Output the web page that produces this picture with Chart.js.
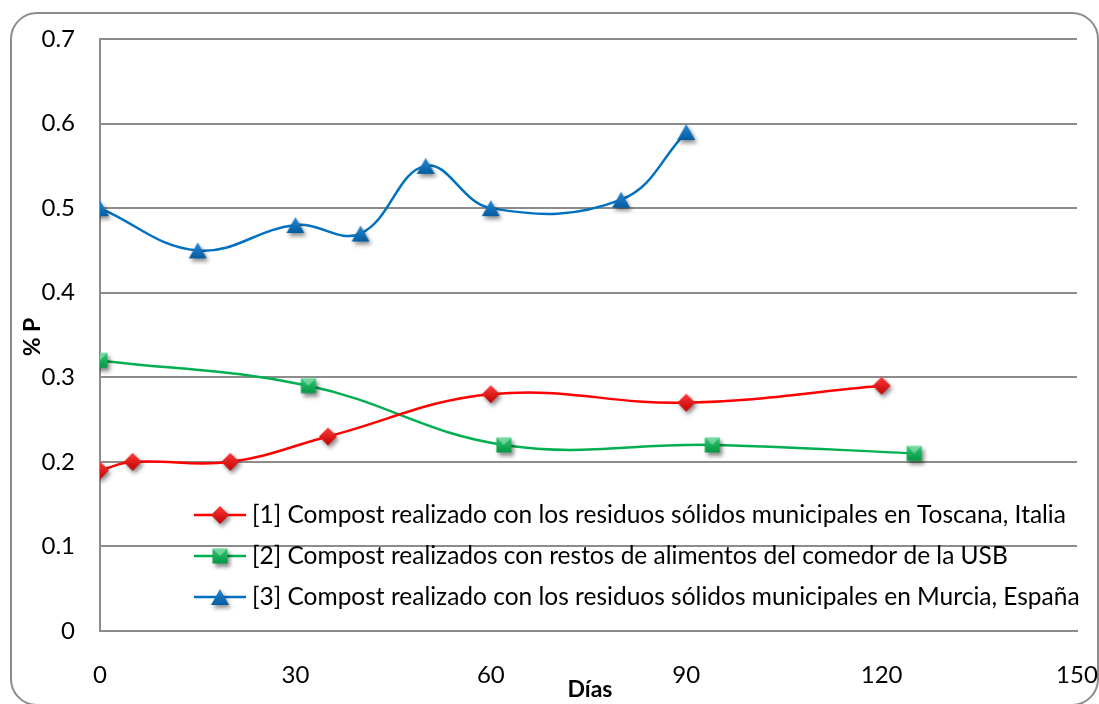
<!DOCTYPE html>
<html lang="es">
<head>
<meta charset="UTF-8">
<title>% P vs Días</title>
<script src="https://cdn.jsdelivr.net/npm/chart.js"></script>
<style>
  html, body { margin: 0; padding: 0; background: #fff; }
  #wrap { width: 1099px; height: 704px; }
</style>
</head>
<body>
<div id="wrap"><canvas id="grafico" width="1099" height="704"></canvas></div>
<script>
// datos
const diasToscana = [0, 5, 20, 35, 60, 90, 120];
const pToscana    = [0.19, 0.20, 0.20, 0.23, 0.28, 0.27, 0.29];

const diasUSB = [0, 32, 62, 94, 125];
const pUSB    = [0.32, 0.29, 0.22, 0.22, 0.21];

const diasMurcia = [0, 15, 30, 40, 50, 60, 80, 90];
const pMurcia    = [0.50, 0.45, 0.48, 0.47, 0.55, 0.50, 0.51, 0.59];

const nombres = [
  '[1] Compost realizado con los residuos sólidos municipales en Toscana, Italia',
  '[2] Compost realizados con restos de alimentos del comedor de la USB',
  '[3] Compost realizado con los residuos sólidos municipales en Murcia, España'
];
const xTicks = [0, 30, 60, 90, 120, 150];
const yTicks = [0, 0.1, 0.2, 0.3, 0.4, 0.5, 0.6, 0.7];

const FUENTE = 'Lato, "Open Sans", sans-serif';
const GRIS = '#8c8c8c';

// marcadores con sombra, dibujados en canvas aparte
function marcador(forma, claro, oscuro) {
  const c = document.createElement('canvas');
  c.width = 30; c.height = 30;
  const g = c.getContext('2d');
  g.save();
  g.shadowColor = 'rgba(0,0,0,0.45)';
  g.shadowBlur = 4;
  g.shadowOffsetX = 2;
  g.shadowOffsetY = 3;
  const grad = g.createLinearGradient(0, 6, 0, 24);
  grad.addColorStop(0, claro);
  grad.addColorStop(1, oscuro);
  g.fillStyle = grad;
  g.beginPath();
  if (forma === 'rombo') {
    g.moveTo(15, 6); g.lineTo(24, 15); g.lineTo(15, 24); g.lineTo(6, 15);
  } else if (forma === 'cuadro') {
    g.rect(7.5, 7.5, 15, 15);
  } else {
    g.moveTo(15, 7); g.lineTo(24, 23); g.lineTo(6, 23);
  }
  g.closePath();
  g.fill();
  g.restore();
  if (forma === 'cuadro') {
    g.fillStyle = 'rgba(255,255,255,0.35)';
    g.beginPath();
    g.moveTo(7.5, 7.5); g.lineTo(22.5, 7.5); g.lineTo(15, 15); g.closePath();
    g.fill();
  }
  return c;
}

const mRojo  = marcador('rombo', '#ff3b3b', '#c00000');
const mVerde = marcador('cuadro', '#33cc77', '#00923f');
const mAzul  = marcador('triangulo', '#2b8ad6', '#005a9e');

function puntos(xs, ys) {
  return xs.map((x, i) => ({ x: x, y: ys[i] }));
}

const series = [
  { label: nombres[0], data: puntos(diasToscana, pToscana), color: '#ff0000', img: mRojo },
  { label: nombres[1], data: puntos(diasUSB, pUSB), color: '#00b050', img: mVerde },
  { label: nombres[2], data: puntos(diasMurcia, pMurcia), color: '#0070c0', img: mAzul }
];

// marco redondeado, títulos de ejes y leyenda
const extras = {
  id: 'extras',
  beforeDraw(chart) {
    const ctx = chart.ctx;
    ctx.save();
    ctx.strokeStyle = GRIS;
    ctx.lineWidth = 2;
    ctx.beginPath();
    ctx.roundRect(11, 13, 1087, 692, 26);
    ctx.stroke();
    ctx.restore();
  },
  afterDraw(chart) {
    const ctx = chart.ctx;
    ctx.save();
    ctx.fillStyle = '#000';
    ctx.font = 'bold 23px ' + FUENTE;
    ctx.textAlign = 'center';
    ctx.textBaseline = 'middle';
    ctx.fillText('Días', 590, 690);
    ctx.translate(33, 337);
    ctx.rotate(-Math.PI / 2);
    ctx.fillText('% P', 0, 0);
    ctx.restore();

    ctx.save();
    ctx.font = '24.5px ' + FUENTE;
    ctx.textBaseline = 'middle';
    const filas = [515, 556, 597];
    series.forEach((s, i) => {
      const y = filas[i];
      ctx.strokeStyle = s.color;
      ctx.lineWidth = 2.5;
      ctx.beginPath();
      ctx.moveTo(194, y); ctx.lineTo(246, y);
      ctx.stroke();
      ctx.drawImage(s.img, 220 - 15, y - 15);
      ctx.fillStyle = '#000';
      ctx.fillText(s.label, 252, y);
    });
    ctx.restore();
  }
};

new Chart(document.getElementById('grafico'), {
  type: 'line',
  data: {
    datasets: series.map(s => ({
      label: s.label,
      data: s.data,
      borderColor: s.color,
      backgroundColor: s.color,
      borderWidth: 2.5,
      tension: 0.4,
      fill: false,
      pointStyle: s.img,
      pointRadius: 10,
      pointHoverRadius: 10
    }))
  },
  options: {
    responsive: false,
    animation: false,
    events: [],
    layout: { padding: { top: 39, right: 22, left: 0, bottom: 0 } },
    plugins: {
      legend: { display: false },
      tooltip: { enabled: false }
    },
    scales: {
      x: {
        type: 'linear',
        min: xTicks[0],
        max: xTicks[xTicks.length - 1],
        afterBuildTicks(scale) { scale.ticks = xTicks.map(v => ({ value: v })); },
        afterFit(scale) {
          scale.height = 73;
          scale.paddingLeft = 0;
          scale.paddingRight = 0;
        },
        grid: { display: false, drawTicks: false },
        border: { display: true, color: GRIS, width: 2 },
        ticks: { color: '#000', font: { family: FUENTE, size: 24 }, padding: 30 }
      },
      y: {
        min: yTicks[0],
        max: yTicks[yTicks.length - 1],
        afterBuildTicks(scale) { scale.ticks = yTicks.map(v => ({ value: v })); },
        afterFit(scale) {
          scale.width = 100;
          scale.paddingTop = 0;
          scale.paddingBottom = 0;
        },
        grid: { color: GRIS, lineWidth: 2, drawTicks: false },
        border: { display: true, color: GRIS, width: 2 },
        ticks: { color: '#000', font: { family: FUENTE, size: 24 }, padding: 25 }
      }
    }
  },
  plugins: [extras]
});
</script>
</body>
</html>
